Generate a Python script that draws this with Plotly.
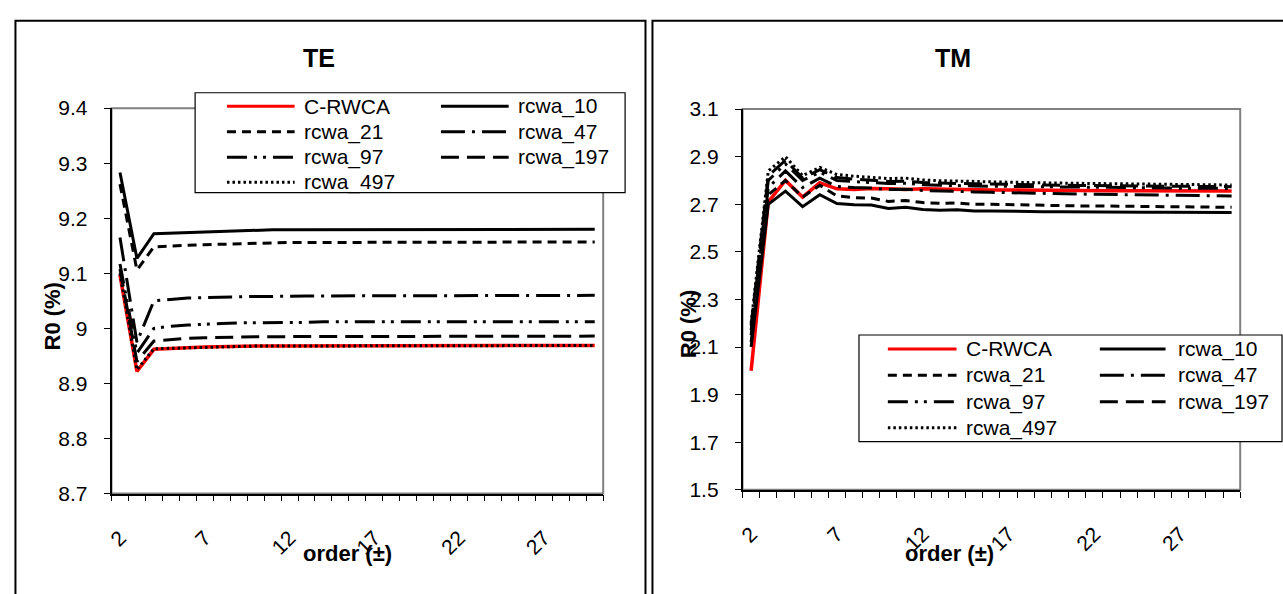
import plotly.graph_objects as go

W, H = 1283, 594

# ---------------- data ----------------
orders = list(range(2, 31))
xtick_vals = [2, 7, 12, 17, 22, 27]
series_names = ["C-RWCA", "rcwa_10", "rcwa_21", "rcwa_47", "rcwa_97", "rcwa_197", "rcwa_497"]

te_ticks = [8.7, 8.8, 8.9, 9.0, 9.1, 9.2, 9.3, 9.4]
te_ticktext = ["8.7", "8.8", "8.9", "9", "9.1", "9.2", "9.3", "9.4"]
tm_ticks = [1.5, 1.7, 1.9, 2.1, 2.3, 2.5, 2.7, 2.9, 3.1]
tm_ticktext = ["1.5", "1.7", "1.9", "2.1", "2.3", "2.5", "2.7", "2.9", "3.1"]

te_crwca = [9.097, 8.922, 8.962, 8.964, 8.965,
            8.966, 8.967, 8.967, 8.968, 8.968,
            8.968, 8.968, 8.969, 8.969, 8.969,
            8.969, 8.969, 8.969, 8.969, 8.969,
            8.969, 8.969, 8.969, 8.969, 8.969,
            8.969, 8.969, 8.969, 8.969]
te_10 = [9.283, 9.127, 9.172, 9.173, 9.175,
         9.176, 9.177, 9.178, 9.178, 9.179,
         9.179, 9.179, 9.179, 9.179, 9.180,
         9.180, 9.180, 9.180, 9.180, 9.180,
         9.180, 9.180, 9.180, 9.180, 9.180,
         9.180, 9.180, 9.180, 9.180]
te_21 = [9.262, 9.106, 9.148, 9.150, 9.151,
         9.152, 9.153, 9.154, 9.155, 9.155,
         9.156, 9.156, 9.156, 9.156, 9.157,
         9.157, 9.157, 9.157, 9.157, 9.157,
         9.157, 9.157, 9.157, 9.157, 9.157,
         9.157, 9.157, 9.157, 9.157]
te_47 = [9.165, 8.975, 9.050, 9.053, 9.055,
         9.056, 9.057, 9.057, 9.058, 9.058,
         9.059, 9.059, 9.059, 9.059, 9.060,
         9.060, 9.060, 9.060, 9.060, 9.060,
         9.060, 9.060, 9.060, 9.060, 9.060,
         9.060, 9.060, 9.060, 9.060]
te_97 = [9.117, 8.955, 9.000, 9.004, 9.006,
         9.008, 9.009, 9.010, 9.010, 9.011,
         9.011, 9.011, 9.012, 9.012, 9.012,
         9.012, 9.012, 9.012, 9.012, 9.012,
         9.012, 9.012, 9.012, 9.012, 9.012,
         9.012, 9.012, 9.012, 9.012]
te_197 = [9.108, 8.940, 8.977, 8.980, 8.982,
          8.983, 8.984, 8.984, 8.985, 8.985,
          8.985, 8.986, 8.986, 8.986, 8.986,
          8.986, 8.986, 8.986, 8.986, 8.986,
          8.986, 8.986, 8.986, 8.986, 8.986,
          8.986, 8.986, 8.986, 8.986]
te_497 = [9.100, 8.925, 8.963, 8.964, 8.965,
          8.966, 8.967, 8.967, 8.968, 8.968,
          8.968, 8.968, 8.969, 8.969, 8.969,
          8.969, 8.969, 8.969, 8.969, 8.969,
          8.969, 8.969, 8.969, 8.969, 8.969,
          8.969, 8.969, 8.969, 8.969]

tm_crwca = [2.00, 2.71, 2.80, 2.73, 2.79,
            2.765, 2.762, 2.766, 2.765, 2.762,
            2.765, 2.763, 2.762, 2.760, 2.760,
            2.760, 2.759, 2.759, 2.758, 2.758,
            2.758, 2.757, 2.757, 2.757, 2.757,
            2.756, 2.756, 2.756, 2.756]
tm_10 = [2.10, 2.70, 2.755, 2.69, 2.74,
         2.703, 2.698, 2.697, 2.682, 2.687,
         2.678, 2.675, 2.677, 2.672, 2.672,
         2.670, 2.668, 2.669, 2.668, 2.667,
         2.668, 2.667, 2.666, 2.666, 2.666,
         2.666, 2.665, 2.665, 2.665]
tm_21 = [2.12, 2.74, 2.80, 2.73, 2.78,
         2.735, 2.728, 2.726, 2.712, 2.716,
         2.707, 2.704, 2.705, 2.700, 2.700,
         2.698, 2.696, 2.696, 2.694, 2.693,
         2.693, 2.692, 2.691, 2.690, 2.690,
         2.689, 2.688, 2.688, 2.687]
tm_47 = [2.15, 2.77, 2.84, 2.77, 2.81,
         2.775, 2.770, 2.768, 2.762, 2.763,
         2.758, 2.755, 2.755, 2.752, 2.750,
         2.748, 2.747, 2.745, 2.744, 2.743,
         2.742, 2.741, 2.740, 2.739, 2.738,
         2.737, 2.736, 2.735, 2.735]
tm_97 = [2.17, 2.80, 2.87, 2.80, 2.835,
         2.800, 2.795, 2.792, 2.787, 2.788,
         2.782, 2.780, 2.780, 2.777, 2.776,
         2.775, 2.774, 2.773, 2.772, 2.771,
         2.770, 2.770, 2.769, 2.769, 2.768,
         2.768, 2.767, 2.767, 2.766]
tm_197 = [2.19, 2.82, 2.885, 2.81, 2.845,
          2.812, 2.806, 2.802, 2.796, 2.797,
          2.791, 2.789, 2.789, 2.786, 2.785,
          2.783, 2.782, 2.781, 2.780, 2.779,
          2.778, 2.778, 2.777, 2.777, 2.776,
          2.776, 2.775, 2.775, 2.774]
tm_497 = [2.20, 2.84, 2.90, 2.82, 2.855,
          2.825, 2.818, 2.814, 2.808, 2.810,
          2.802, 2.799, 2.799, 2.796, 2.794,
          2.792, 2.791, 2.790, 2.789, 2.788,
          2.787, 2.786, 2.785, 2.785, 2.784,
          2.783, 2.782, 2.782, 2.781]

te_series = [te_crwca, te_10, te_21, te_47, te_97, te_197, te_497]
tm_series = [tm_crwca, tm_10, tm_21, tm_47, tm_97, tm_197, tm_497]

# ---------------- styles ----------------
FONT = "Liberation Sans, Arial, sans-serif"
TICK_SIZE = 21
LEG_SIZE = 21
AXT_SIZE = 22
TITLE_SIZE = 25
styles = [
    dict(color="#ff0000", width=3.5, dash="solid"),
    dict(color="black", width=3, dash="solid"),
    dict(color="black", width=3, dash="9px,6px"),
    dict(color="black", width=3, dash="24px,7px,3px,7px"),
    dict(color="black", width=3, dash="20px,7px,3px,6px,3px,7px"),
    dict(color="black", width=3, dash="18px,8px"),
    dict(color="black", width=3, dash="2.5px,3px"),
]


def px(x):
    return x / W


def py(y):
    return 1 - y / H


fig = go.Figure()
for vals, name, st in zip(te_series, series_names, styles):
    fig.add_trace(go.Scatter(x=orders, y=vals, name=name, mode="lines",
                             line=dict(color=st["color"], width=st["width"], dash=st["dash"]),
                             xaxis="x", yaxis="y", showlegend=False))
for vals, name, st in zip(tm_series, series_names, styles):
    fig.add_trace(go.Scatter(x=orders, y=vals, name=name, mode="lines",
                             line=dict(color=st["color"], width=st["width"], dash=st["dash"]),
                             xaxis="x2", yaxis="y2", showlegend=False))


def xaxis_cfg(domain, anchor):
    return dict(
        domain=domain, anchor=anchor, range=[1.5, 30.5],
        tickmode="array", tickvals=xtick_vals, ticktext=[str(v) for v in xtick_vals],
        ticks="", tickangle=-45, ticklabelstandoff=22,
        tickfont=dict(size=TICK_SIZE, color="black", family=FONT),
        showline=True, linecolor="black", linewidth=1.5,
        showgrid=False, zeroline=False,
        minor=dict(tickmode="array", tickvals=[o - 0.5 for o in orders] + [orders[-1] + 0.5],
                   ticks="outside", ticklen=6, tickcolor="black", tickwidth=1, showgrid=False),
    )


def yaxis_cfg(domain, anchor, rng, tv, tt):
    return dict(
        domain=domain, anchor=anchor, range=rng,
        tickmode="array", tickvals=tv, ticktext=tt,
        ticks="outside", ticklen=6, tickcolor="black", tickwidth=1,
        ticklabelstandoff=12,
        tickfont=dict(size=TICK_SIZE, color="black", family=FONT),
        showline=True, linecolor="black", linewidth=1.5,
        showgrid=False, zeroline=False,
    )


L_X = [px(106), px(600)]
L_Y = [py(501), py(100)]
R_X = [px(740), px(1240)]
R_Y = [py(497), py(101)]

fig.update_layout(
    width=W, height=H, margin=dict(l=0, r=0, t=0, b=0),
    paper_bgcolor="white", plot_bgcolor="white",
    font=dict(family=FONT, color="black"),
    xaxis=xaxis_cfg(L_X, "y"),
    yaxis=yaxis_cfg(L_Y, "x", [8.7, 9.4], te_ticks, te_ticktext),
    xaxis2=xaxis_cfg(R_X, "y2"),
    yaxis2=yaxis_cfg(R_Y, "x2", [1.5, 3.1], tm_ticks, tm_ticktext),
    showlegend=False,
)

shapes = []
# panel frames
shapes.append(dict(type="rect", xref="paper", yref="paper", x0=px(9.5), x1=px(642.5),
                   y0=py(620), y1=py(9), line=dict(color="black", width=2), layer="below"))
shapes.append(dict(type="rect", xref="paper", yref="paper", x0=px(649.5), x1=px(1300),
                   y0=py(620), y1=py(9), line=dict(color="black", width=2), layer="below"))
# gray plot-area borders
for xr, yr in [("x", "y"), ("x2", "y2")]:
    shapes.append(dict(type="rect", xref=xr + " domain", yref=yr + " domain", x0=0, x1=1, y0=0, y1=1,
                       line=dict(color="#808080", width=2), layer="below"))

annotations = []


def add_text(text, x, y, size, angle=0, xanchor="center"):
    annotations.append(dict(text=text, x=px(x), y=py(y), xref="paper", yref="paper",
                            xanchor=xanchor, yanchor="middle", showarrow=False, textangle=angle,
                            font=dict(size=size, family=FONT, color="black")))


# titles
add_text("<b>TE</b>", 314, 48, TITLE_SIZE)
add_text("<b>TM</b>", 951, 48, TITLE_SIZE)
# axis titles
add_text("<b>order (±)</b>", 343, 563, AXT_SIZE)
add_text("<b>order (±)</b>", 948, 563, AXT_SIZE)
add_text("<b>R0 (%)</b>", 47, 317, AXT_SIZE, angle=-90)
add_text("<b>R0 (%)</b>", 686, 325, AXT_SIZE, angle=-90)

# legends (two columns, drawn as a box with samples)
legend_specs = [
    dict(box=(190, 84, 622, 188), rows=[98, 124.5, 151, 177], cols=[(222, 290, 297), (437, 505, 512)]),
    dict(box=(857, 336, 1282, 447), rows=[350.5, 378, 405.5, 432.5], cols=[(886, 955, 962), (1099, 1165, 1175)]),
]
for spec in legend_specs:
    bx0, by0, bx1, by1 = spec["box"]
    shapes.append(dict(type="rect", xref="paper", yref="paper", x0=px(bx0), x1=px(bx1),
                       y0=py(by1), y1=py(by0), line=dict(color="black", width=1.2),
                       fillcolor="white", layer="above"))
    for i, (name, st) in enumerate(zip(series_names, styles)):
        r, c = divmod(i, 2)
        sx0, sx1, tx = spec["cols"][c]
        yy = spec["rows"][r]
        shapes.append(dict(type="line", xref="paper", yref="paper", x0=px(sx0), x1=px(sx1),
                           y0=py(yy), y1=py(yy),
                           line=dict(color=st["color"], width=min(st["width"], 3), dash=st["dash"]),
                           layer="above"))
        add_text(name, tx, yy, LEG_SIZE, xanchor="left")

fig.update_layout(shapes=shapes, annotations=annotations)
fig.write_html("out.html")
